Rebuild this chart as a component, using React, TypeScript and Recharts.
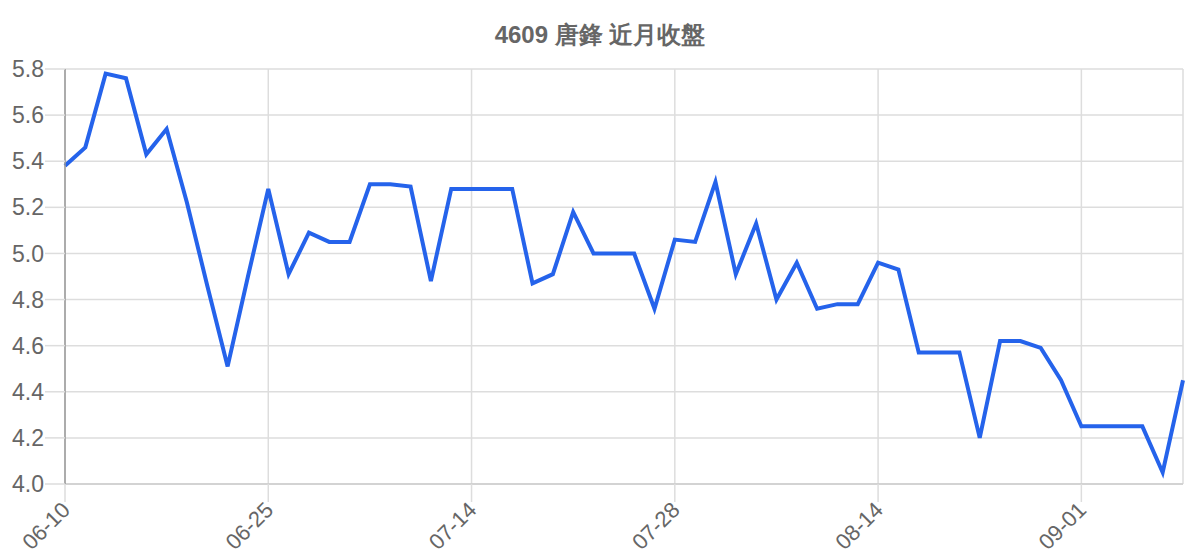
import React from 'react';
import { LineChart, Line, XAxis, YAxis, CartesianGrid } from 'recharts';

const title = '4609 唐鋒 近月收盤';

const dates = [
  '06-10', '06-11', '06-12', '06-13', '06-16', '06-17', '06-18', '06-19', '06-20', '06-23',
  '06-25', '06-26', '06-27', '06-30', '07-01', '07-02', '07-03', '07-07', '07-08', '07-10',
  '07-14', '07-15', '07-16', '07-17', '07-18', '07-21', '07-22', '07-23', '07-24', '07-25',
  '07-28', '07-29', '07-30', '07-31', '08-01', '08-04', '08-05', '08-06', '08-07', '08-08',
  '08-14', '08-15', '08-18', '08-19', '08-20', '08-21', '08-22', '08-25', '08-26', '08-28',
  '09-01', '09-02', '09-03', '09-04', '09-05', '09-08',
];

const closes = [
  5.38, 5.46, 5.78, 5.76, 5.43, 5.54, 5.22, 4.86, 4.51, 4.9,
  5.28, 4.91, 5.09, 5.05, 5.05, 5.3, 5.3, 5.29, 4.88, 5.28,
  5.28, 5.28, 5.28, 4.87, 4.91, 5.18, 5.0, 5.0, 5.0, 4.76,
  5.06, 5.05, 5.31, 4.91, 5.13, 4.8, 4.96, 4.76, 4.78, 4.78,
  4.96, 4.93, 4.57, 4.57, 4.57, 4.2, 4.62, 4.62, 4.59, 4.45,
  4.25, 4.25, 4.25, 4.25, 4.05, 4.45,
];

const yTicks = [4.0, 4.2, 4.4, 4.6, 4.8, 5.0, 5.2, 5.4, 5.6, 5.8];
const xTicks = ['06-10', '06-25', '07-14', '07-28', '08-14', '09-01'];

const data = dates.map((d, i) => ({ date: d, close: closes[i] }));

const font = '"Liberation Sans", Arial, sans-serif';

const XTick = (props: any) => {
  const { x, y, payload } = props;
  return (
    <g transform={`translate(${x + 1},${y + 2})`}>
      <text
        textAnchor="end"
        dominantBaseline="central"
        transform="rotate(-45)"
        fill="#666"
        fontSize={22}
        fontFamily={font}
      >
        {payload.value}
      </text>
    </g>
  );
};

const App: React.FC = () => {
  return (
    <div style={{ position: 'absolute', left: 0, top: 0, width: 1200, height: 560, background: '#fff' }}>
      <div
        style={{
          position: 'absolute',
          top: 19,
          left: 0,
          width: 1200,
          textAlign: 'center',
          fontFamily: font,
          fontWeight: 'bold',
          fontSize: 24,
          color: '#666',
        }}
      >
        {title}
      </div>
      <LineChart width={1200} height={560} data={data} margin={{ top: 69, right: 17, left: 0, bottom: 16 }}>
        <CartesianGrid stroke="#ddd" strokeWidth={1.5} />
        <XAxis
          dataKey="date"
          ticks={xTicks}
          interval={0}
          height={60}
          stroke="#ccc"
          strokeWidth={1.5}
          tickSize={18}
          tickLine={{ stroke: '#ddd' }}
          tick={<XTick />}
        />
        <YAxis
          width={65}
          domain={[4.0, 5.8]}
          ticks={yTicks}
          tickFormatter={(v: number) => v.toFixed(1)}
          stroke="#999"
          strokeWidth={1.5}
          tickSize={20}
          tickLine={{ stroke: '#ddd' }}
          tick={{ fill: '#666', fontSize: 23, fontFamily: font }}
          tickMargin={1}
        />
        <Line
          type="linear"
          dataKey="close"
          stroke="#2563eb"
          strokeWidth={4}
          dot={false}
          isAnimationActive={false}
        />
      </LineChart>
    </div>
  );
};

export default App;
